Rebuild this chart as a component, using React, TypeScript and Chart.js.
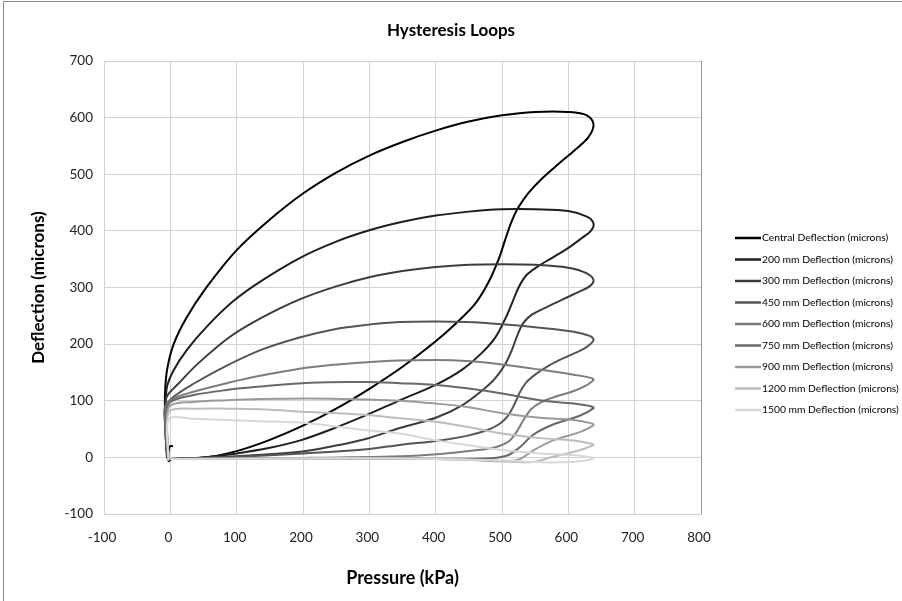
import React, { useEffect, useRef } from 'react';
import { Chart, registerables } from 'chart.js';

Chart.register(...registerables);

type P = [number, number];

// Loading (lower) and unloading (upper) branches, [pressure kPa, deflection microns]
const centralLoad: P[] = [[4,20],[-1,19],[-3,8],[-2,-5],[2,-3],[30,-2],[60,1],[100,11],[150,31],[200,56],[250,86],[300,121],[350,160],[400,205],[430,236],[460,272],[480,310],[495,350],[505,385],[515,418],[525,442],[540,467],[560,492],[585,518],[610,543],[630,565],[638,588]];
const centralUnload: P[] = [[628,604],[600,610],[550,610],[500,604],[450,593],[400,577],[350,557],[300,533],[250,503],[200,466],[150,420],[100,366],[55,301],[25,248],[5,200],[-5,154],[-8,113],[-8,78],[-7,40],[-5,5],[-2,-8]];

const d200Load: P[] = [[0,-3],[50,0],[100,7],[150,17],[196,30],[246,51],[296,75],[350,103],[400,128],[440,155],[470,185],[490,212],[505,245],[515,272],[525,300],[537,322],[555,338],[575,352],[600,370],[620,387],[634,400],[638,413]];
const d200Unload: P[] = [[628,425],[600,435],[550,438],[500,438],[450,434],[400,427],[350,416],[300,401],[250,381],[195,352],[135,310],[95,276],[55,231],[25,190],[5,154],[-5,125],[-7,90],[-6,40],[-4,0],[-2,-6]];

const d300Load: P[] = [[0,-3],[100,2],[196,10],[246,20],[296,33],[346,52],[400,70],[440,92],[470,118],[490,140],[505,165],[515,190],[523,215],[532,237],[545,252],[565,264],[590,278],[615,292],[632,302],[638,313]];
const d300Unload: P[] = [[628,325],[600,335],[550,340],[500,341],[450,340],[400,336],[350,329],[300,318],[250,302],[195,279],[140,248],[90,213],[42,166],[12,130],[-5,108],[-8,85],[-7,40],[-5,0],[-2,-6]];

const d450Load: P[] = [[0,-3],[100,1],[200,7],[300,15],[346,22],[407,30],[447,38],[475,47],[495,58],[508,72],[518,92],[527,115],[537,133],[552,148],[572,163],[598,178],[625,193],[638,207]];
const d450Unload: P[] = [[633,214],[608,222],[557,229],[500,235],[447,239],[400,240],[346,239],[296,234],[246,226],[196,212],[135,189],[85,162],[35,130],[5,107],[-8,89],[-8,60],[-6,20],[-3,-5]];

const d600Load: P[] = [[0,-3],[200,-1],[346,2],[407,6],[457,12],[490,18],[510,28],[522,45],[532,65],[543,84],[560,98],[580,107],[605,116],[625,126],[638,137]];
const d600Unload: P[] = [[635,140],[608,146],[557,155],[500,164],[447,170],[400,172],[346,171],[296,168],[211,159],[135,144],[85,131],[35,116],[0,101],[-7,85],[-6,40],[-3,-5]];

const d750Load: P[] = [[0,-3],[200,-2],[346,-2],[472,-2],[507,3],[527,18],[547,40],[577,58],[618,74],[638,87]];
const d750Unload: P[] = [[635,90],[608,95],[557,101],[500,113],[447,122],[400,128],[346,131],[296,133],[211,132],[135,125],[85,119],[35,110],[0,98],[-6,80],[-5,40],[-3,-5]];

const d900Load: P[] = [[0,-3],[200,-2],[346,-2],[447,-4],[507,-7],[527,-3],[547,12],[577,30],[618,45],[638,57]];
const d900Unload: P[] = [[635,60],[608,66],[557,70],[500,78],[447,89],[400,95],[346,100],[296,102],[211,104],[135,103],[85,101],[35,98],[0,92],[-5,70],[-4,30],[-3,-5]];

const d1200Load: P[] = [[0,-3],[200,-2],[346,-2],[472,-5],[517,-8],[547,-8],[577,1],[618,13],[638,22]];
const d1200Unload: P[] = [[635,24],[608,30],[557,34],[500,42],[447,54],[400,63],[346,69],[296,75],[211,80],[135,85],[85,86],[35,86],[0,83],[-5,60],[-4,20],[-3,-5]];

const d1500Load: P[] = [[0,-3],[200,-2],[346,-2],[497,-5],[547,-8],[577,-9],[618,-7],[638,-2]];
const d1500Unload: P[] = [[635,0],[608,4],[557,7],[500,13],[447,22],[400,30],[346,42],[296,48],[211,60],[135,64],[35,68],[0,70],[-5,50],[-4,20],[-3,-5]];

const seriesNames = [
  'Central Deflection (microns)',
  '200 mm Deflection (microns)',
  '300 mm Deflection (microns)',
  '450 mm Deflection (microns)',
  '600 mm Deflection (microns)',
  '750 mm Deflection (microns)',
  '900 mm Deflection (microns)',
  '1200 mm Deflection (microns)',
  '1500 mm Deflection (microns)',
];
const seriesLoad = [centralLoad, d200Load, d300Load, d450Load, d600Load, d750Load, d900Load, d1200Load, d1500Load];
const seriesUnload = [centralUnload, d200Unload, d300Unload, d450Unload, d600Unload, d750Unload, d900Unload, d1200Unload, d1500Unload];
const seriesColors = ['#000000', '#1e1e1e', '#3c3c3c', '#555555', '#7c7c7c', '#686868', '#9a9a9a', '#bcbcbc', '#d8d8d8'];

const xMin = -100, xMax = 800, xStep = 100;
const yMin = -100, yMax = 700, yStep = 100;

const FONT = 'Lato, "Open Sans", "DejaVu Sans", sans-serif';

const sideLegend = {
  id: 'sideLegend',
  afterDraw(chart: any) {
    const { ctx, chartArea } = chart;
    const x = chartArea.right + 34;
    const step = 21.5;
    const y0 = chartArea.top + 177;
    ctx.save();
    ctx.font = '10.3px ' + FONT;
    ctx.textBaseline = 'middle';
    ctx.textAlign = 'left';
    chart.data.datasets.forEach((ds: any, i: number) => {
      const y = y0 + i * step;
      ctx.strokeStyle = ds.borderColor;
      ctx.lineWidth = 2.5;
      ctx.beginPath();
      ctx.moveTo(x, y);
      ctx.lineTo(x + 26, y);
      ctx.stroke();
      ctx.fillStyle = '#000';
      ctx.fillText(ds.label, x + 27, y);
    });
    ctx.restore();
  },
};

export default function App() {
  const ref = useRef<HTMLCanvasElement | null>(null);
  useEffect(() => {
    if (!ref.current) return;
    const datasets = seriesNames.map((name, i) => ({
      label: name,
      data: [...seriesLoad[i], ...seriesUnload[i]].map(([x, y]) => ({ x, y })),
      showLine: true,
      borderColor: seriesColors[i],
      backgroundColor: seriesColors[i],
      borderWidth: 2,
      pointRadius: 0,
      pointHoverRadius: 0,
      tension: 0.35,
      fill: false,
      order: seriesNames.length - i,
    }));
    const chart = new Chart(ref.current, {
      type: 'scatter',
      data: { datasets },
      options: {
        animation: false,
        responsive: false,
        maintainAspectRatio: false,
        layout: { padding: 0 },
        plugins: {
          legend: { display: false },
          tooltip: { enabled: false },
          title: {
            display: true,
            text: 'Hysteresis Loops',
            color: '#000',
            font: { family: FONT, size: 17, weight: 'bold' },
            padding: { top: 20, bottom: 20.6 },
          },
        },
        scales: {
          x: {
            type: 'linear',
            min: xMin,
            max: xMax,
            ticks: { stepSize: xStep, color: '#222', font: { family: FONT, size: 13.5 }, padding: 16, labelOffset: -2 },
            grid: {
              color: (c: any) => (c.tick && c.tick.value === xMax ? '#9a9a9a' : '#d2d2d2'),
              drawTicks: false,
              lineWidth: 1,
            },
            border: { color: '#d2d2d2' },
            title: {
              display: true,
              text: 'Pressure (kPa)',
              color: '#000',
              font: { family: FONT, size: 18, weight: 'bold' },
              padding: { top: 0, bottom: 12 },
            },
            afterFit: (s: any) => { s.height = 87; },
          },
          y: {
            type: 'linear',
            min: yMin,
            max: yMax,
            ticks: { stepSize: yStep, color: '#222', font: { family: FONT, size: 13.5 }, padding: 11 },
            grid: { color: '#d2d2d2', drawTicks: false, lineWidth: 1 },
            border: { color: '#d2d2d2' },
            title: {
              display: true,
              text: 'Deflection (microns)',
              color: '#000',
              font: { family: FONT, size: 17, weight: 'bold' },
              padding: { top: 28, bottom: 0 },
            },
            afterFit: (s: any) => { s.width = 104; },
          },
          legendSpace: {
            type: 'linear',
            position: 'right',
            display: true,
            grid: { display: false },
            border: { display: false },
            ticks: { display: false },
            afterFit: (s: any) => { s.width = 201; },
          },
        },
      } as any,
      plugins: [sideLegend],
    });
    return () => chart.destroy();
  }, []);

  return (
    <div style={{ position: 'fixed', left: 0, top: 0, width: 902, height: 601, overflow: 'hidden', background: '#fff' }}>
      <div style={{ position: 'absolute', left: 3, top: 1, width: 920, height: 640, border: '1px solid #8a8a8a' }} />
      <canvas ref={ref} width={902} height={601} style={{ position: 'absolute', left: 0, top: 0, width: 902, height: 601 }} />
    </div>
  );
}
